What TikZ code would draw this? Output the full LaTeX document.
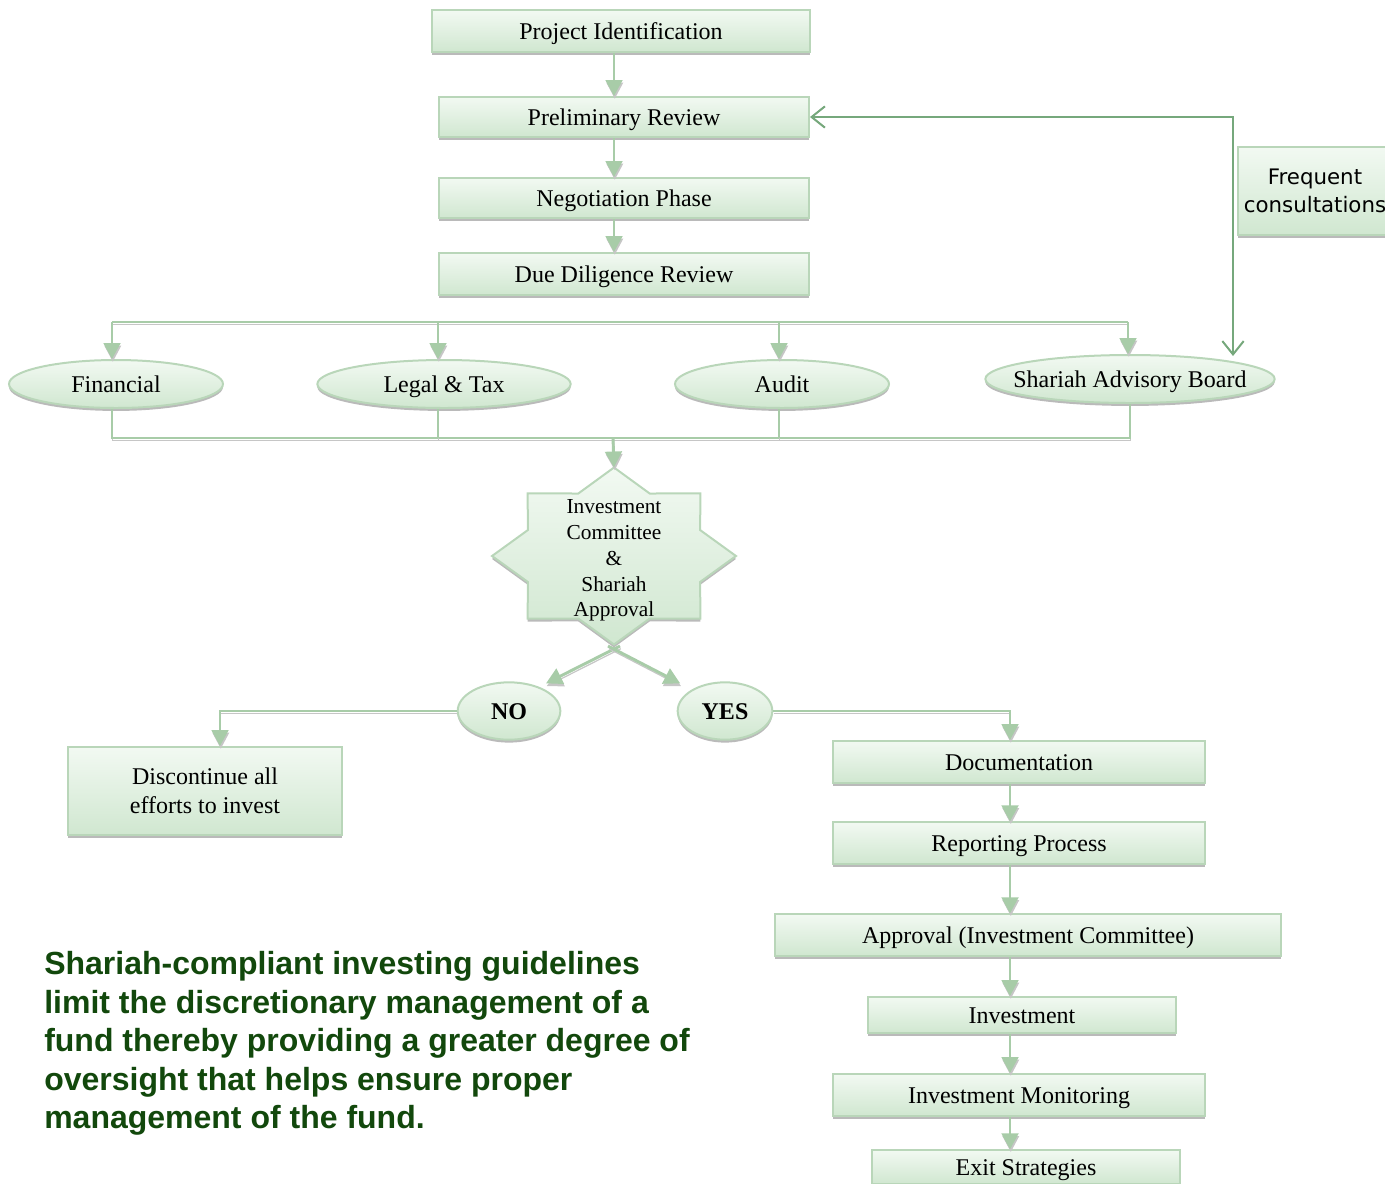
\documentclass[tikz,border=0pt]{standalone}
\usepackage{fontspec}
\setmainfont{Liberation Serif}
\newfontfamily\sansb{Liberation Sans}
\newfontfamily\dejavu{DejaVu Sans}
\usetikzlibrary{shapes.geometric,arrows.meta,shadows}
\definecolor{boxb}{RGB}{185,214,185}
\definecolor{boxtop}{RGB}{242,249,242}
\definecolor{boxbot}{RGB}{208,231,208}
\definecolor{connc}{RGB}{168,204,168}
\definecolor{fbc}{RGB}{118,168,124}
\definecolor{txtg}{RGB}{18,72,12}
\begin{document}
\begin{tikzpicture}[x=0.75pt,y=-0.75pt,
  shp/.style={draw=boxb, line width=1.5pt, top color=boxtop, bottom color=boxbot,
    drop shadow={shadow xshift=0pt,shadow yshift=-2.2pt,fill=gray!60,opacity=.9}},
  pbox/.style={shp, inner sep=0pt, align=center, font=\fontsize{18}{21.75}\selectfont},
  one/.style={text height=14pt, text depth=2pt},
  ovl/.style={pbox, ellipse, one},
  lshadow/.style={preaction={draw=gray!45, line width=0.9pt, transform canvas={shift={(0.6pt,-2pt)}}}},
  bus/.style={draw=connc, line width=2.2pt, lshadow},
  conn/.style={draw=connc, line width=2.2pt, lshadow, -{Triangle[width=12.5pt,length=12pt]}},
  fb/.style={draw=fbc, line width=1.5pt, {Straight Barb[width=16pt,length=10pt]}-{Straight Barb[width=16pt,length=10pt]}}
]
\clip (0,0) rectangle (1385,1183);

% top chain
\node[pbox, one, minimum width=284pt, minimum height=31.5pt] (proj) at (621,31) {Project Identification};
\node[pbox, one, minimum width=277.5pt, minimum height=30pt] (prelim) at (624,117) {Preliminary Review};
\node[pbox, one, minimum width=277.5pt, minimum height=30pt] (nego) at (624,198) {Negotiation Phase};
\node[pbox, one, minimum width=277.5pt, minimum height=31.5pt] (dd) at (624,274) {Due Diligence Review};

\coordinate (cx) at (614,0);
\draw[conn] (proj.south -| cx) -- (prelim.north -| cx);
\draw[conn] (prelim.south -| cx) -- (nego.north -| cx);
\draw[conn] (nego.south -| cx) -- (dd.north -| cx);

% review ellipses
\node[ovl, minimum width=160.5pt, minimum height=36pt] (fin) at (116,384) {\makebox[0pt]{Financial}};
\node[ovl, minimum width=190pt, minimum height=36pt] (legal) at (444,384) {\makebox[0pt]{Legal \& Tax}};
\node[ovl, minimum width=160.5pt, minimum height=36pt] (audit) at (782,384) {\makebox[0pt]{Audit}};
\node[ovl, minimum width=217pt, minimum height=36pt] (shar) at (1130,379) {\makebox[0pt]{Shariah Advisory Board}};

\node[pbox, font=\dejavu\fontsize{16}{21}\selectfont, minimum width=115.5pt, minimum height=66pt] (freq) at (1315,191) {Frequent\\consultations};

% top bus
\coordinate (tb1) at (112,322);
\coordinate (tb2) at (438,322);
\coordinate (tb3) at (779,322);
\coordinate (tb4) at (1128,322);
\draw[bus] (tb1) -- (tb4);
\draw[conn] (tb1) -- (fin.north -| tb1);
\draw[conn] (tb2) -- (legal.north -| tb2);
\draw[conn] (tb3) -- (audit.north -| tb3);
\draw[conn] (tb4) -- (shar.north -| tb4);

% bottom bus
\coordinate (bb1) at (112,438);
\coordinate (bb2) at (438,438);
\coordinate (bb3) at (779,438);
\coordinate (bb4) at (1130,438);
\coordinate (bbc) at (613,438);
\draw[bus] (fin.south -| bb1) -- (bb1) -- (bb4) -- (shar.south -| bb4);
\draw[bus] (legal.south -| bb2) -- (bb2);
\draw[bus] (audit.south -| bb3) -- (bb3);

% feedback
\draw[fb] ([yshift=4pt]shar.north east) |- (prelim.east);

% star
\path[shp] (614,467.5) -- (649.7,493.5) -- (700.3,493.4) -- (700.2,530.1) -- (736,556)
  -- (700.2,581.9) -- (700.3,618.6) -- (649.7,618.5) -- (614,644.5) -- (578.3,618.5)
  -- (527.7,618.6) -- (527.8,581.9) -- (492,556) -- (527.8,530.1) -- (527.7,493.4)
  -- (578.3,493.5) -- cycle;
\coordinate (icN) at (614,467.5);
\coordinate (icS) at (614,646);
\node[align=center, inner sep=0pt, font=\fontsize{16}{19.4}\selectfont] (ic) at (614,560.5) {Investment\\Committee\\\&\\Shariah\\Approval};
\draw[conn] (bbc) -- (icN);

% decision
\node[ovl, font=\bfseries\fontsize{18}{21}\selectfont, minimum width=77pt, minimum height=43pt] (no) at (509,711) {\makebox[0pt]{NO}};
\node[ovl, font=\bfseries\fontsize{18}{21}\selectfont, minimum width=71pt, minimum height=43pt] (yes) at (725,711) {\makebox[0pt]{YES}};
\draw[conn] ([xshift=4.5pt]icS) -- ([yshift=5pt]no.north east);
\draw[conn] ([xshift=-4.5pt]icS) -- ([shift={(-8pt,5pt)}]yes.north west);

\node[pbox, minimum width=205.5pt, minimum height=66pt] (disc) at (205,791) {Discontinue all\\efforts to invest};
\coordinate (dx) at (220,0);
\draw[conn] (no.west) -| (disc.north -| dx);

% right chain
\node[pbox, one, minimum width=279pt, minimum height=31.5pt] (doc) at (1019,762) {Documentation};
\node[pbox, one, minimum width=279pt, minimum height=31pt] (rep) at (1019,843) {Reporting Process};
\node[pbox, one, minimum width=380pt, minimum height=31pt] (appr) at (1028,935) {Approval (Investment Committee)};
\node[pbox, one, minimum width=231pt, minimum height=27pt] (inv) at (1022,1015) {Investment};
\node[pbox, one, minimum width=279pt, minimum height=31.5pt] (mon) at (1019,1095) {Investment Monitoring};
\node[pbox, one, minimum width=231pt, minimum height=25pt] (exit) at (1026,1167) {Exit Strategies};

\coordinate (rx) at (1010,0);
\draw[conn] (yes.east) -| (doc.north -| rx);
\draw[conn] (doc.south -| rx) -- (rep.north -| rx);
\draw[conn] (rep.south -| rx) -- (appr.north -| rx);
\draw[conn] (appr.south -| rx) -- (inv.north -| rx);
\draw[conn] (inv.south -| rx) -- (mon.north -| rx);
\draw[conn] (mon.south -| rx) -- (exit.north -| rx);

% note
\node[anchor=north west, align=left, inner sep=0pt, text=txtg, font=\sansb\bfseries\fontsize{24}{28.9}\selectfont] (note) at (44,951)
 {Shariah-compliant investing guidelines\\limit the discretionary management of a\\fund thereby providing a greater degree of\\oversight that helps ensure proper\\management of the fund.};
\end{tikzpicture}
\end{document}
